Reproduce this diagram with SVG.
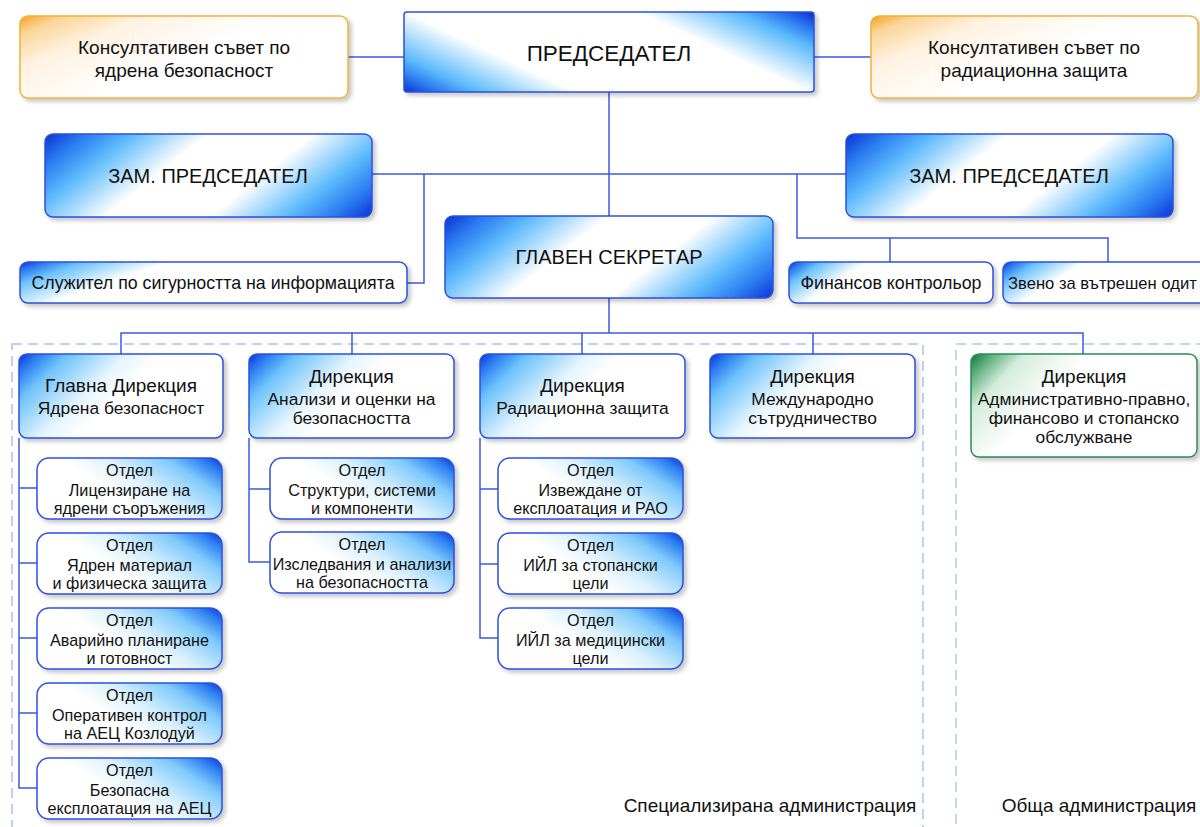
<svg xmlns="http://www.w3.org/2000/svg" width="1200" height="827" viewBox="0 0 1200 827">
<defs>
<linearGradient id="gChair" x1="0" y1="1" x2="1.2" y2="0.5">
<stop offset="0" stop-color="#0a32d2"/><stop offset="0.06" stop-color="#2a78f0"/><stop offset="0.13" stop-color="#5cbafb"/><stop offset="0.3" stop-color="#ffffff"/><stop offset="0.7" stop-color="#ffffff"/><stop offset="0.87" stop-color="#5cbafb"/><stop offset="0.94" stop-color="#2a78f0"/><stop offset="1" stop-color="#0a32d2"/>
</linearGradient>
<linearGradient id="gZam" x1="0" y1="0" x2="1.2" y2="0.384">
<stop offset="0" stop-color="#0a32d2"/><stop offset="0.09" stop-color="#2a78f0"/><stop offset="0.2" stop-color="#5cbafb"/><stop offset="0.38" stop-color="#ffffff"/><stop offset="0.62" stop-color="#ffffff"/><stop offset="0.8" stop-color="#5cbafb"/><stop offset="0.91" stop-color="#2a78f0"/><stop offset="1" stop-color="#0a32d2"/>
</linearGradient>
<linearGradient id="gSmall" x1="0" y1="0" x2="1" y2="0.3">
<stop offset="0" stop-color="#0a32d2"/><stop offset="0.06" stop-color="#2a78f0"/><stop offset="0.15" stop-color="#6cc2fb"/><stop offset="0.35" stop-color="#ffffff"/><stop offset="1" stop-color="#ffffff"/>
</linearGradient>
<linearGradient id="gDept" x1="0" y1="0" x2="1" y2="0.43">
<stop offset="0" stop-color="#0a32d2"/><stop offset="0.08" stop-color="#2a78f0"/><stop offset="0.2" stop-color="#6cc2fb"/><stop offset="0.45" stop-color="#e6f5fe"/><stop offset="0.6" stop-color="#ffffff"/><stop offset="1" stop-color="#ffffff"/>
</linearGradient>
<linearGradient id="gOtd" x1="1" y1="0" x2="0" y2="0.5">
<stop offset="0" stop-color="#0a32d2"/><stop offset="0.1" stop-color="#2d80f2"/><stop offset="0.25" stop-color="#7fcafb"/><stop offset="0.5" stop-color="#dcf1fd"/><stop offset="0.7" stop-color="#ffffff"/><stop offset="1" stop-color="#ffffff"/>
</linearGradient>
<linearGradient id="gOr" x1="0" y1="0" x2="1" y2="0.6">
<stop offset="0" stop-color="#f4a11e"/><stop offset="0.1" stop-color="#fad598"/><stop offset="0.28" stop-color="#fff2e2"/><stop offset="0.6" stop-color="#ffffff"/>
</linearGradient>
<linearGradient id="gGr" x1="0" y1="0" x2="1" y2="0.43">
<stop offset="0" stop-color="#11733a"/><stop offset="0.08" stop-color="#5aae7c"/><stop offset="0.2" stop-color="#d4ecdc"/><stop offset="0.45" stop-color="#ffffff"/>
</linearGradient>
<filter id="sh" x="-5%" y="-10%" width="115%" height="130%">
<feDropShadow dx="3" dy="3" stdDeviation="2" flood-color="#000" flood-opacity="0.22"/>
</filter>
</defs>
<style>
.b{stroke:#2d4fe0;stroke-width:1.5;filter:url(#sh)}
.o{stroke:#f2b23a;stroke-width:1.5;fill:url(#gOr);filter:url(#sh)}
.g{stroke:#2e8b57;stroke-width:1.5;fill:url(#gGr);filter:url(#sh)}
.t{font-family:"Liberation Sans",Arial,sans-serif;fill:#111;text-anchor:middle}
.c{fill:none;stroke:#3a5ae2;stroke-width:1.5}
.d{fill:none;stroke-width:1.5;stroke-dasharray:10 6}
</style>
<rect width="1200" height="827" fill="#fff"/>
<g id="regions">
<rect class="d" x="12" y="344" width="911" height="500" stroke="#a3c2ef"/>
<rect class="d" x="956" y="344" width="260" height="500" stroke="#a3d8b8"/>
<text class="t" x="770" y="812" font-size="19">Специализирана администрация</text>
<text class="t" x="1099" y="812" font-size="19">Обща администрация</text>
</g>
<g id="connectors">
<path class="c" d="M348 57H404M814 57H871"/>
<path class="c" d="M609 92V216M372 174H846"/>
<path class="c" d="M424 174V283H407"/>
<path class="c" d="M797 174V238H1108V262M890 238V262"/>
<path class="c" d="M609 298V333M121 354V333H1083V354M352 333V354M582 333V354M813 333V354"/>
<path class="c" d="M19 438V788H37M19 488H37M19 563H37M19 638H37M19 713H37"/>
<path class="c" d="M249 438V562H270M249 489H270"/>
<path class="c" d="M480 438V638H498M480 489H498M480 564H498"/>
</g>
<g id="ks-yadrena">
<rect class="o" x="20" y="16" width="328" height="82" rx="8"/>
<text class="t" x="184" y="54" font-size="19">Консултативен съвет по</text>
<text class="t" x="184" y="77" font-size="19">ядрена безопасност</text>
</g>
<g id="predsedatel">
<rect class="b" x="404" y="12" width="410" height="80" rx="3" fill="url(#gChair)"/>
<text class="t" x="609" y="61" font-size="22.5">ПРЕДСЕДАТЕЛ</text>
</g>
<g id="ks-radiacionna">
<rect class="o" x="871" y="16" width="327" height="82" rx="8"/>
<text class="t" x="1034" y="54" font-size="19">Консултативен съвет по</text>
<text class="t" x="1034" y="77" font-size="19">радиационна защита</text>
</g>
<g id="zam-left">
<rect class="b" x="45" y="134" width="327" height="83" rx="8" fill="url(#gZam)"/>
<text class="t" x="208" y="183" font-size="20">ЗАМ. ПРЕДСЕДАТЕЛ</text>
</g>
<g id="zam-right">
<rect class="b" x="846" y="134" width="327" height="83" rx="8" fill="url(#gZam)"/>
<text class="t" x="1009" y="183" font-size="20">ЗАМ. ПРЕДСЕДАТЕЛ</text>
</g>
<g id="glaven-sekretar">
<rect class="b" x="445" y="216" width="328" height="82" rx="8" fill="url(#gZam)"/>
<text class="t" x="609" y="264" font-size="20">ГЛАВЕН СЕКРЕТАР</text>
</g>
<g id="sluzhitel">
<rect class="b" x="20" y="262" width="387" height="41" rx="8" fill="url(#gSmall)"/>
<text class="t" x="213" y="289" font-size="17.8">Служител по сигурността на информацията</text>
</g>
<g id="finansov">
<rect class="b" x="789" y="262" width="204" height="41" rx="8" fill="url(#gSmall)"/>
<text class="t" x="891" y="289" font-size="17.8">Финансов контрольор</text>
</g>
<g id="zveno">
<rect class="b" x="1003" y="262" width="215" height="41" rx="8" fill="url(#gSmall)"/>
<text class="t" x="1008" y="289" font-size="16.6" style="text-anchor:start">Звено за вътрешен одит</text>
</g>
<g id="gd-yadrena">
<rect class="b" x="19" y="354" width="204" height="84" rx="8" fill="url(#gDept)"/>
<text class="t" x="121" y="392" font-size="19">Главна Дирекция</text>
<text class="t" x="121" y="414" font-size="17.4">Ядрена безопасност</text>
</g>
<g id="d-analizi">
<rect class="b" x="249" y="354" width="205" height="84" rx="8" fill="url(#gDept)"/>
<text class="t" x="351.5" y="383" font-size="19">Дирекция</text>
<text class="t" x="351.5" y="405" font-size="17.4">Анализи и оценки на</text>
<text class="t" x="351.5" y="424" font-size="17.4">безопасността</text>
</g>
<g id="d-radiacionna">
<rect class="b" x="480" y="354" width="205" height="84" rx="8" fill="url(#gDept)"/>
<text class="t" x="582.5" y="392" font-size="19">Дирекция</text>
<text class="t" x="582.5" y="414" font-size="17.4">Радиационна защита</text>
</g>
<g id="d-mezhdunarodno">
<rect class="b" x="710" y="354" width="205" height="84" rx="8" fill="url(#gDept)"/>
<text class="t" x="812.5" y="383" font-size="19">Дирекция</text>
<text class="t" x="812.5" y="405" font-size="17.4">Международно</text>
<text class="t" x="812.5" y="424" font-size="17.4">сътрудничество</text>
</g>
<g id="d-admin">
<rect class="g" x="971" y="354" width="226" height="103" rx="8"/>
<text class="t" x="1084" y="383" font-size="19">Дирекция</text>
<text class="t" x="1084" y="405" font-size="17.4">Административно-правно,</text>
<text class="t" x="1084" y="424" font-size="17.4">финансово и стопанско</text>
<text class="t" x="1084" y="443" font-size="17.4">обслужване</text>
</g>
<g id="o-licenzirane">
<rect class="b" x="37" y="458" width="185" height="61" rx="12" fill="url(#gOtd)"/>
<text class="t" x="129.5" y="476" font-size="16.2">Отдел</text>
<text class="t" x="129.5" y="496" font-size="16.2">Лицензиране на</text>
<text class="t" x="129.5" y="514" font-size="16.2">ядрени съоръжения</text>
</g>
<g id="o-yadren-material">
<rect class="b" x="37" y="533" width="185" height="61" rx="12" fill="url(#gOtd)"/>
<text class="t" x="129.5" y="551" font-size="16.2">Отдел</text>
<text class="t" x="129.5" y="571" font-size="16.2">Ядрен материал</text>
<text class="t" x="129.5" y="589" font-size="16.2">и физическа защита</text>
</g>
<g id="o-avariyno">
<rect class="b" x="37" y="608" width="185" height="61" rx="12" fill="url(#gOtd)"/>
<text class="t" x="129.5" y="626" font-size="16.2">Отдел</text>
<text class="t" x="129.5" y="646" font-size="16.2">Аварийно планиране</text>
<text class="t" x="129.5" y="664" font-size="16.2">и готовност</text>
</g>
<g id="o-operativen">
<rect class="b" x="37" y="683" width="185" height="61" rx="12" fill="url(#gOtd)"/>
<text class="t" x="129.5" y="701" font-size="16.2">Отдел</text>
<text class="t" x="129.5" y="721" font-size="16.2">Оперативен контрол</text>
<text class="t" x="129.5" y="739" font-size="16.2">на АЕЦ Козлодуй</text>
</g>
<g id="o-bezopasna">
<rect class="b" x="37" y="758" width="185" height="61" rx="12" fill="url(#gOtd)"/>
<text class="t" x="129.5" y="776" font-size="16.2">Отдел</text>
<text class="t" x="129.5" y="796" font-size="16.2">Безопасна</text>
<text class="t" x="129.5" y="814" font-size="16.2">експлоатация на АЕЦ</text>
</g>
<g id="o-strukturi">
<rect class="b" x="270" y="458" width="184" height="61" rx="12" fill="url(#gOtd)"/>
<text class="t" x="362" y="476" font-size="16.2">Отдел</text>
<text class="t" x="362" y="496" font-size="16.2">Структури, системи</text>
<text class="t" x="362" y="514" font-size="16.2">и компоненти</text>
</g>
<g id="o-izsledvania">
<rect class="b" x="270" y="532" width="184" height="61" rx="12" fill="url(#gOtd)"/>
<text class="t" x="362" y="550" font-size="16.2">Отдел</text>
<text class="t" x="362" y="570" font-size="16.2">Изследвания и анализи</text>
<text class="t" x="362" y="588" font-size="16.2">на безопасността</text>
</g>
<g id="o-izvezhdane">
<rect class="b" x="498" y="458" width="185" height="61" rx="12" fill="url(#gOtd)"/>
<text class="t" x="590.5" y="476" font-size="16.2">Отдел</text>
<text class="t" x="590.5" y="496" font-size="16.2">Извеждане от</text>
<text class="t" x="590.5" y="514" font-size="16.2">експлоатация и РАО</text>
</g>
<g id="o-iyl-stopanski">
<rect class="b" x="498" y="533" width="185" height="61" rx="12" fill="url(#gOtd)"/>
<text class="t" x="590.5" y="551" font-size="16.2">Отдел</text>
<text class="t" x="590.5" y="571" font-size="16.2">ИЙЛ за стопански</text>
<text class="t" x="590.5" y="589" font-size="16.2">цели</text>
</g>
<g id="o-iyl-medicinski">
<rect class="b" x="498" y="608" width="185" height="61" rx="12" fill="url(#gOtd)"/>
<text class="t" x="590.5" y="626" font-size="16.2">Отдел</text>
<text class="t" x="590.5" y="646" font-size="16.2">ИЙЛ за медицински</text>
<text class="t" x="590.5" y="664" font-size="16.2">цели</text>
</g>
</svg>
